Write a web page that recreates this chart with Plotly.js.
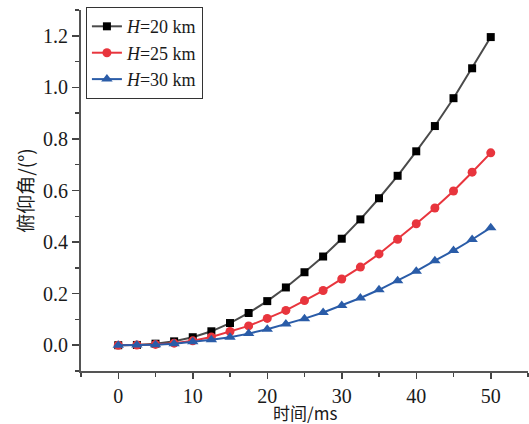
<!DOCTYPE html>
<html>
<head>
<meta charset="utf-8">
<script src="https://cdn.plot.ly/plotly-3.0.1.min.js"></script>
<style>html,body{margin:0;padding:0;background:#fff;}#chart{width:529px;height:424px;}</style>
</head>
<body>
<div id="chart"></div>
<script>
const timeMs = [0, 2.5, 5, 7.5, 10, 12.5, 15, 17.5, 20, 22.5, 25, 27.5, 30, 32.5, 35, 37.5, 40, 42.5, 45, 47.5, 50];
const pitchH20 = [0, 0.001, 0.006, 0.015, 0.031, 0.054, 0.086, 0.125, 0.171, 0.224, 0.283, 0.344, 0.413, 0.488, 0.570, 0.657, 0.752, 0.850, 0.958, 1.074, 1.195];
const pitchH25 = [0, 0.001, 0.003, 0.008, 0.017, 0.032, 0.053, 0.075, 0.104, 0.135, 0.173, 0.212, 0.257, 0.303, 0.354, 0.411, 0.471, 0.532, 0.598, 0.671, 0.746];
const pitchH30 = [0, 0.001, 0.002, 0.006, 0.013, 0.021, 0.031, 0.045, 0.062, 0.082, 0.103, 0.127, 0.154, 0.183, 0.215, 0.250, 0.287, 0.328, 0.367, 0.410, 0.456];
const seriesNames = ["<i>H</i>=20 km", "<i>H</i>=25 km", "<i>H</i>=30 km"];
const xTitle = "时间/ms";
const yTitle = "俯仰角/(°)";

const fontFam = "Liberation Serif, 'Times New Roman', 'Noto Sans CJK SC', serif";
const cjkFam = "'Noto Sans CJK SC', Liberation Serif";

const traces = [
  {x: timeMs, y: pitchH20, name: seriesNames[0], mode: "lines+markers",
   line: {color: "#4a4a4a", width: 2}, marker: {symbol: "square", size: 8, color: "#000000"}},
  {x: timeMs, y: pitchH25, name: seriesNames[1], mode: "lines+markers",
   line: {color: "#e8353d", width: 2}, marker: {symbol: "circle", size: 9, color: "#e8353d"}},
  {x: timeMs, y: pitchH30, name: seriesNames[2], mode: "lines+markers",
   line: {color: "#2a5ca8", width: 2}, marker: {symbol: "triangle-up", size: 10, color: "#2a5ca8"}}
];

const layout = {
  width: 529, height: 424,
  margin: {l: 81, r: 1, t: 10, b: 53},
  paper_bgcolor: "#fff", plot_bgcolor: "#fff",
  font: {family: fontFam, size: 19, color: "#1a1a1a"},
  showlegend: true,
  legend: {x: 0.011, y: 1.008, xanchor: "left", yanchor: "top",
    bordercolor: "#333", borderwidth: 1, bgcolor: "#fff", itemwidth: 30,
    font: {family: fontFam, size: 18, color: "#1a1a1a"}, tracegroupgap: 0},
  xaxis: {
    range: [-5, 55], tickvals: [0, 10, 20, 30, 40, 50], ticks: "outside", ticklen: 6, tickwidth: 1.5, tickcolor: "#444",
    minor: {tickvals: [-5, 5, 15, 25, 35, 45, 55], ticks: "outside", ticklen: 4, tickwidth: 1.5, tickcolor: "#444"},
    showline: true, linecolor: "#555", linewidth: 2, showgrid: false, zeroline: false,
    tickfont: {family: fontFam, size: 20, color: "#1a1a1a"}
  },
  yaxis: {
    range: [-0.1, 1.3], tickvals: [0, 0.2, 0.4, 0.6, 0.8, 1.0, 1.2], tickformat: ".1f",
    ticks: "outside", ticklen: 7, tickwidth: 1.5, tickcolor: "#444",
    minor: {tickvals: [-0.1, 0.1, 0.3, 0.5, 0.7, 0.9, 1.1, 1.3], ticks: "outside", ticklen: 4, tickwidth: 1.5, tickcolor: "#444"},
    showline: true, linecolor: "#555", linewidth: 2, showgrid: false, zeroline: false,
    tickfont: {family: fontFam, size: 20, color: "#1a1a1a"},
    title: {text: yTitle, font: {family: cjkFam, size: 19, color: "#1a1a1a"}, standoff: 4}
  },
  annotations: [
    {text: xTitle, xref: "paper", yref: "paper", x: 0.5, y: -0.114, xanchor: "center", yanchor: "middle",
     showarrow: false, font: {family: cjkFam, size: 17, color: "#1a1a1a"}}
  ]
};

Plotly.newPlot("chart", traces, layout, {displayModeBar: false, staticPlot: true});
</script>
</body>
</html>
